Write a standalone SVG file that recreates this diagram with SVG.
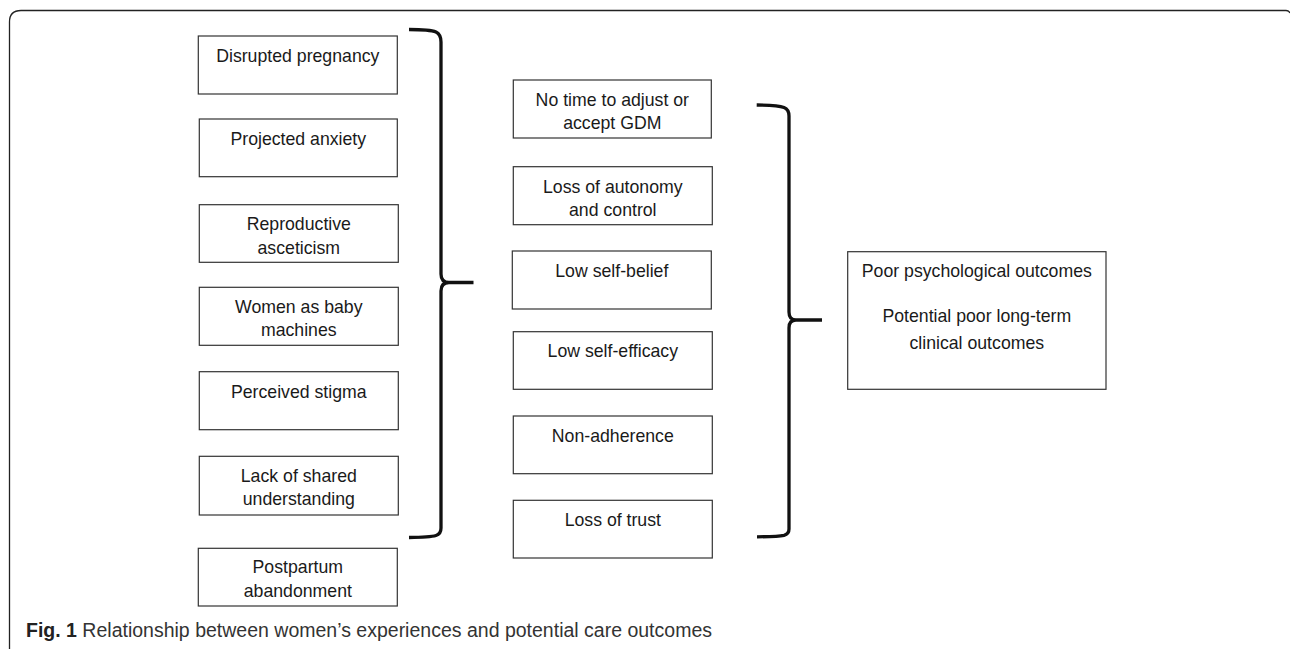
<svg xmlns="http://www.w3.org/2000/svg" width="1290" height="649" viewBox="0 0 1290 649">
<style>
.box{fill:#fff;stroke:#333;stroke-width:1.2}
.lbl{font-family:"Liberation Sans",Arial,sans-serif;font-size:17.7px;fill:#1a1a1a;text-anchor:middle}
.brace{fill:none;stroke:#111;stroke-width:3.3;stroke-linejoin:round}
.cap{font-family:"Liberation Sans",Arial,sans-serif;font-size:19.5px;fill:#333}
</style>
<rect width="1290" height="649" fill="#fff"/>
<path d="M9.5,649 V22 Q9.5,10.5 21,10.5 H1286 Q1289,10.5 1290,13" fill="none" stroke="#222" stroke-width="1.3"/>

<g id="n1"><rect class="box" x="198.3" y="36" width="199" height="58"/><text class="lbl" x="297.8" y="61.7">Disrupted pregnancy</text></g>
<g id="n2"><rect class="box" x="199.3" y="119" width="198" height="57.7"/><text class="lbl" x="298.3" y="144.5">Projected anxiety</text></g>
<g id="n3"><rect class="box" x="199.3" y="204.7" width="199" height="57.6"/><text class="lbl" x="298.8" y="230">Reproductive</text><text class="lbl" x="298.8" y="253.5">asceticism</text></g>
<g id="n4"><rect class="box" x="199.3" y="287.3" width="199" height="58"/><text class="lbl" x="298.8" y="313">Women as baby</text><text class="lbl" x="298.8" y="336.3">machines</text></g>
<g id="n5"><rect class="box" x="199.3" y="371.7" width="199" height="58"/><text class="lbl" x="298.8" y="397.5">Perceived stigma</text></g>
<g id="n6"><rect class="box" x="199.3" y="456.3" width="199" height="58.7"/><text class="lbl" x="298.8" y="481.7">Lack of shared</text><text class="lbl" x="298.8" y="504.5">understanding</text></g>
<g id="n7"><rect class="box" x="198.3" y="548.3" width="199" height="57.7"/><text class="lbl" x="297.8" y="573.3">Postpartum</text><text class="lbl" x="297.8" y="596.7">abandonment</text></g>

<g id="m1"><rect class="box" x="513.3" y="80" width="198" height="58"/><text class="lbl" x="612.3" y="105.7">No time to adjust or</text><text class="lbl" x="612.3" y="129">accept GDM</text></g>
<g id="m2"><rect class="box" x="513.3" y="166.7" width="199" height="58"/><text class="lbl" x="612.8" y="192.7">Loss of autonomy</text><text class="lbl" x="612.8" y="216">and control</text></g>
<g id="m3"><rect class="box" x="512.3" y="251" width="199" height="58"/><text class="lbl" x="611.8" y="276.7">Low self-belief</text></g>
<g id="m4"><rect class="box" x="513.3" y="331.7" width="199" height="57.6"/><text class="lbl" x="612.8" y="357.3">Low self-efficacy</text></g>
<g id="m5"><rect class="box" x="513.3" y="416" width="199" height="57.7"/><text class="lbl" x="612.8" y="441.7">Non-adherence</text></g>
<g id="m6"><rect class="box" x="513.3" y="500.3" width="199" height="57.7"/><text class="lbl" x="612.8" y="525.7">Loss of trust</text></g>

<g id="out"><rect class="box" x="847.7" y="251.7" width="258.3" height="137.6"/><text class="lbl" x="976.8" y="277.3">Poor psychological outcomes</text><text class="lbl" x="976.8" y="321.7">Potential poor long-term</text><text class="lbl" x="976.8" y="349.3">clinical outcomes</text></g>

<g id="connectors">
<path class="brace" d="M409,29.5 Q430,29.5 436,32 Q441,34.5 441,42 V274 Q441,282.5 449,282.5 H473.5 M449,282.5 Q441,282.5 441,291 V528 Q441,534 436,535.5 Q430,537.3 409,537.5"/>
<path class="brace" d="M756.7,105 Q778,105.3 784,107.5 Q789,109.5 789,116 V312 Q789,320 796,320 H822 M796,320 Q789,320 789,328 V529 Q789,534 784,535.3 Q778,536.7 757,536.8"/>
</g>

<text class="cap" x="26" y="637" textLength="686" lengthAdjust="spacingAndGlyphs"><tspan font-weight="bold" fill="#222">Fig. 1</tspan> Relationship between women’s experiences and potential care outcomes</text>
</svg>
